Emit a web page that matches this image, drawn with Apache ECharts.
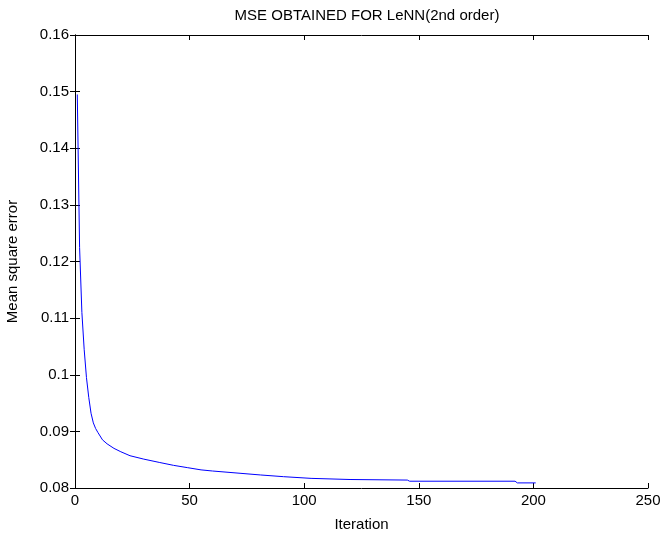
<!DOCTYPE html>
<html>
<head>
<meta charset="utf-8">
<title>MSE LeNN</title>
<script src="https://cdn.jsdelivr.net/npm/echarts@6/dist/echarts.min.js"></script>
<style>
  html, body { margin: 0; padding: 0; background: #fff; }
  #mse-line-chart { width: 665px; height: 537px; }
</style>
</head>
<body>
<div id="mse-line-chart"></div>
<script>
// values
var iterations = [1, 2, 3, 4, 5, 6, 7, 8, 9, 10, 12, 14, 17, 20, 24, 30, 37, 43, 49, 55, 60, 72, 81, 91, 103, 120, 145, 146, 192, 193, 201];
var mseValues = [0.1495, 0.1225, 0.1110, 0.1045, 0.0995, 0.0960, 0.0932, 0.0915, 0.0905, 0.0898, 0.0885, 0.0878, 0.0870, 0.0864, 0.0857, 0.0851, 0.0845, 0.0840, 0.0836, 0.0832, 0.0830, 0.0826, 0.0823, 0.0820, 0.0817, 0.0815, 0.0814, 0.0812, 0.0812, 0.0809, 0.0809];
var xTicks = [0, 50, 100, 150, 200, 250];
var yTicks = [0.08, 0.09, 0.1, 0.11, 0.12, 0.13, 0.14, 0.15, 0.16];

var font = "Liberation Sans, Arial, sans-serif";
var seriesData = iterations.map(function (it, i) {
  return [it, mseValues[i]];
});

var axisLine = { show: true, lineStyle: { color: "#000", width: 1 } };
var tick = { show: true, inside: true, length: 5, lineStyle: { color: "#000" } };

var option = {
  animation: false,
  backgroundColor: "#fff",
  title: {
    text: "MSE OBTAINED FOR LeNN(2nd order)",
    left: 362,
    textAlign: "center",
    top: 3,
    textStyle: { fontFamily: font, fontSize: 15, fontWeight: "normal", color: "#000" },
  },
  grid: { left: 75, right: 17, top: 35, bottom: 49, outerBoundsMode: "none" },
  xAxis: [
    {
      type: "value",
      min: xTicks[0],
      max: xTicks[xTicks.length - 1],
      interval: 50,
      name: "Iteration",
      nameLocation: "middle",
      nameGap: 29,
      nameTextStyle: { fontFamily: font, fontSize: 15, color: "#000" },
      axisLine: axisLine,
      axisTick: tick,
      axisLabel: { fontFamily: font, fontSize: 15, color: "#000", margin: 5 },
      splitLine: { show: false },
    },
    {
      type: "value",
      position: "top",
      min: xTicks[0],
      max: xTicks[xTicks.length - 1],
      interval: 50,
      axisLine: axisLine,
      axisTick: tick,
      axisLabel: { show: false },
      splitLine: { show: false },
    },
  ],
  yAxis: [
    {
      type: "value",
      min: yTicks[0],
      max: yTicks[yTicks.length - 1],
      interval: 0.01,
      name: "Mean square error",
      nameLocation: "middle",
      nameGap: 55,
      nameTextStyle: { fontFamily: font, fontSize: 15, color: "#000" },
      axisLine: axisLine,
      axisTick: tick,
      axisLabel: {
        fontFamily: font,
        fontSize: 15,
        color: "#000",
        margin: 6,
        formatter: function (v) {
          return String(parseFloat(v.toFixed(2)));
        },
      },
      splitLine: { show: false },
    },
    {
      type: "value",
      position: "right",
      min: yTicks[0],
      max: yTicks[yTicks.length - 1],
      interval: 0.01,
      axisLine: axisLine,
      axisTick: tick,
      axisLabel: { show: false },
      splitLine: { show: false },
    },
  ],
  series: [
    {
      type: "line",
      data: seriesData,
      xAxisIndex: 0,
      yAxisIndex: 0,
      showSymbol: false,
      lineStyle: { color: "#0000ff", width: 1 },
    },
  ],
};

var chart = echarts.init(document.getElementById("mse-line-chart"));
chart.setOption(option);
</script>
</body>
</html>
